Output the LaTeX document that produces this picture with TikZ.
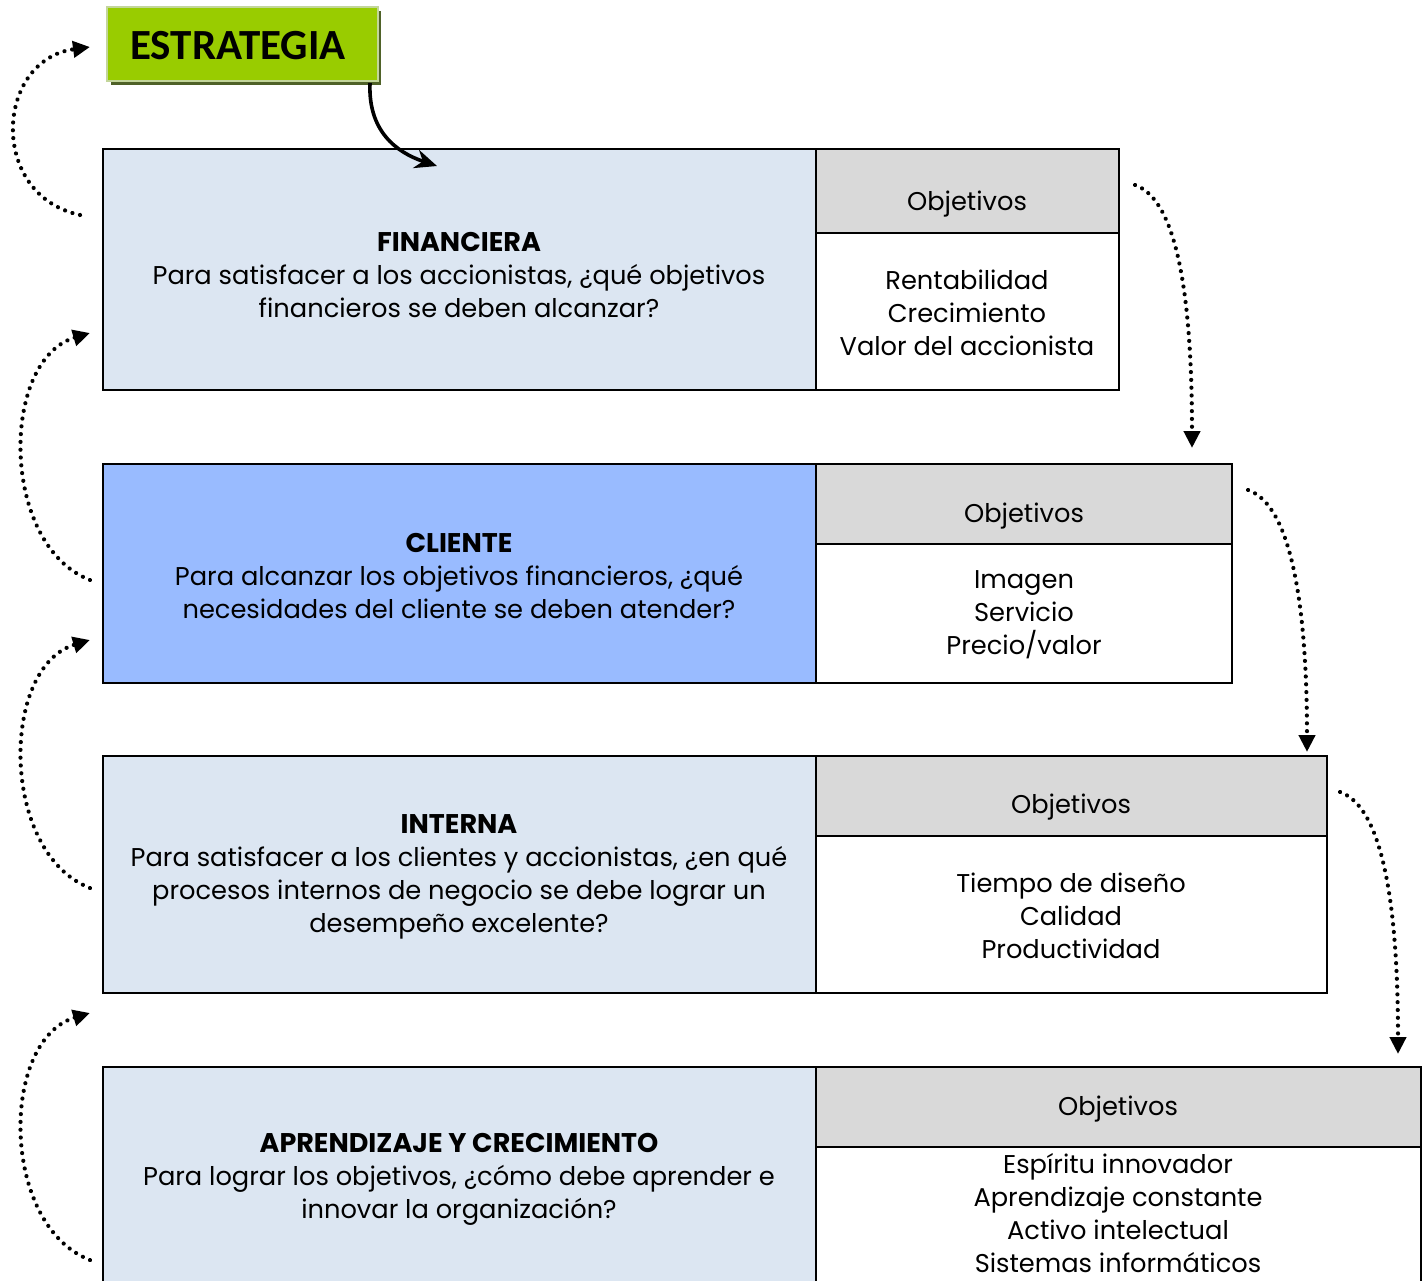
\documentclass[tikz,border=0pt]{standalone}
\usepackage{fontspec}
\setmainfont{Poppins}
\newfontfamily\calib{Carlito}
\usetikzlibrary{arrows.meta}
\definecolor{pale}{HTML}{DCE6F2}
\definecolor{cblue}{HTML}{99BBFF}
\definecolor{hgrey}{HTML}{D9D9D9}
\definecolor{lgreen}{HTML}{99CC00}
\definecolor{bgreen}{HTML}{C3D69B}
\definecolor{sgreen}{HTML}{4F6228}
\newcommand{\hd}[1]{{\fontsize{27}{33}\selectfont\bfseries #1}}
\tikzset{
  box/.style={draw=black, line width=2pt, inner sep=0pt, outer sep=0pt, anchor=north west},
  txt/.style={align=center, inner sep=0pt, font=\fontsize{25.7}{33}\selectfont},
  dotarrow/.style={line width=4.2pt, dash pattern=on 0.01pt off 7.8pt, line cap=round, -{Triangle[length=17pt,width=16pt]}},
}
\begin{document}
\begin{tikzpicture}[x=1pt,y=-1pt]
\useasboundingbox (0,0) rectangle (1427,1281);
% ESTRATEGIA
\fill[sgreen] (111,11) rectangle (381,85);
\node[draw=bgreen, line width=2pt, fill=lgreen, minimum width=271pt, minimum height=74pt, inner sep=0pt, outer sep=0pt, anchor=north west] (estr) at (107,7) {};
\node[inner sep=0pt, font=\calib\bfseries\fontsize{43}{43}\selectfont] (estrt) at (238,46) {ESTRATEGIA};
% Box 1
\node[box, fill=pale, minimum width=713pt, minimum height=241pt] (l1) at (103,149) {};
\node[box, fill=hgrey, minimum width=303pt, minimum height=84pt] (h1) at (816,149) {};
\node[box, fill=white, minimum width=303pt, minimum height=157pt] (b1) at (816,233) {};
\node[txt] (t1) at (459,275) {\hd{FINANCIERA}\\Para satisfacer a los accionistas, ¿qué objetivos\\financieros se deben alcanzar?};
\node[txt] (ho1) at (967,204) {Objetivos};
\node[txt] (o1) at (967,313) {Rentabilidad\\Crecimiento\\Valor del accionista};
% Box 2
\node[box, fill=cblue, minimum width=713pt, minimum height=219pt] (l2) at (103,464) {};
\node[box, fill=hgrey, minimum width=416pt, minimum height=80pt] (h2) at (816,464) {};
\node[box, fill=white, minimum width=416pt, minimum height=139pt] (b2) at (816,544) {};
\node[txt] (t2) at (459,576) {\hd{CLIENTE}\\Para alcanzar los objetivos financieros, ¿qué\\necesidades del cliente se deben atender?};
\node[txt] (ho2) at (1024,516) {Objetivos};
\node[txt] (o2) at (1024,615) {Imagen\\Servicio\\Precio/valor};
% Box 3
\node[box, fill=pale, minimum width=713pt, minimum height=237pt] (l3) at (103,756) {};
\node[box, fill=hgrey, minimum width=511pt, minimum height=80pt] (h3) at (816,756) {};
\node[box, fill=white, minimum width=511pt, minimum height=157pt] (b3) at (816,836) {};
\node[txt] (t3) at (459,877) {\hd{INTERNA}\\Para satisfacer a los clientes y accionistas, ¿en qué\\procesos internos de negocio se debe lograr un\\desempeño excelente?};
\node[txt] (ho3) at (1071,807) {Objetivos};
\node[txt] (o3) at (1071,916) {Tiempo de diseño\\Calidad\\Productividad};
% Box 4
\node[box, fill=pale, minimum width=713pt, minimum height=260pt] (l4) at (103,1067) {};
\node[box, fill=hgrey, minimum width=605pt, minimum height=80pt] (h4) at (816,1067) {};
\node[box, fill=white, minimum width=605pt, minimum height=180pt] (b4) at (816,1147) {};
\node[txt] (t4) at (459,1179) {\hd{APRENDIZAJE Y CRECIMIENTO}\\Para lograr los objetivos, ¿cómo debe aprender e\\innovar la organización?};
\node[txt] (ho4) at (1118,1109) {Objetivos};
\node[txt, anchor=north] (o4) at (1118,1153) {Espíritu innovador\\Aprendizaje constante\\Activo intelectual\\Sistemas informáticos};
% solid arrow
\coordinate (sa) at (370,83);
\draw[line width=3.6pt, -{Stealth[length=22pt,width=19pt]}] (sa) .. controls (368,130) and (395,152) .. (437,166);
% left dotted arrows
\coordinate (ls1) at (80,215); \coordinate (le1) at (90,47);
\coordinate (ls2) at (90,580); \coordinate (le2) at (90,333);
\coordinate (ls3) at (90,888); \coordinate (le3) at (90,640);
\coordinate (ls4) at (90,1260); \coordinate (le4) at (90,1013);
\draw[dotarrow] (ls1) .. controls (-12,195) and (-5,60) .. (le1);
\draw[dotarrow] (ls2) .. controls (0,545) and (0,360) .. (le2);
\draw[dotarrow] (ls3) .. controls (0,853) and (0,667) .. (le3);
\draw[dotarrow] (ls4) .. controls (0,1225) and (0,1040) .. (le4);
% right dotted arrows
\coordinate (rs1) at (1135,185); \coordinate (re1) at (1192,448);
\coordinate (rs2) at (1248,490); \coordinate (re2) at (1307,752);
\coordinate (rs3) at (1340,792); \coordinate (re3) at (1398,1054);
\draw[dotarrow] (rs1) .. controls (1178,200) and (1192,300) .. (re1);
\draw[dotarrow] (rs2) .. controls (1291,505) and (1307,604) .. (re2);
\draw[dotarrow] (rs3) .. controls (1383,807) and (1398,906) .. (re3);
\end{tikzpicture}
\end{document}
